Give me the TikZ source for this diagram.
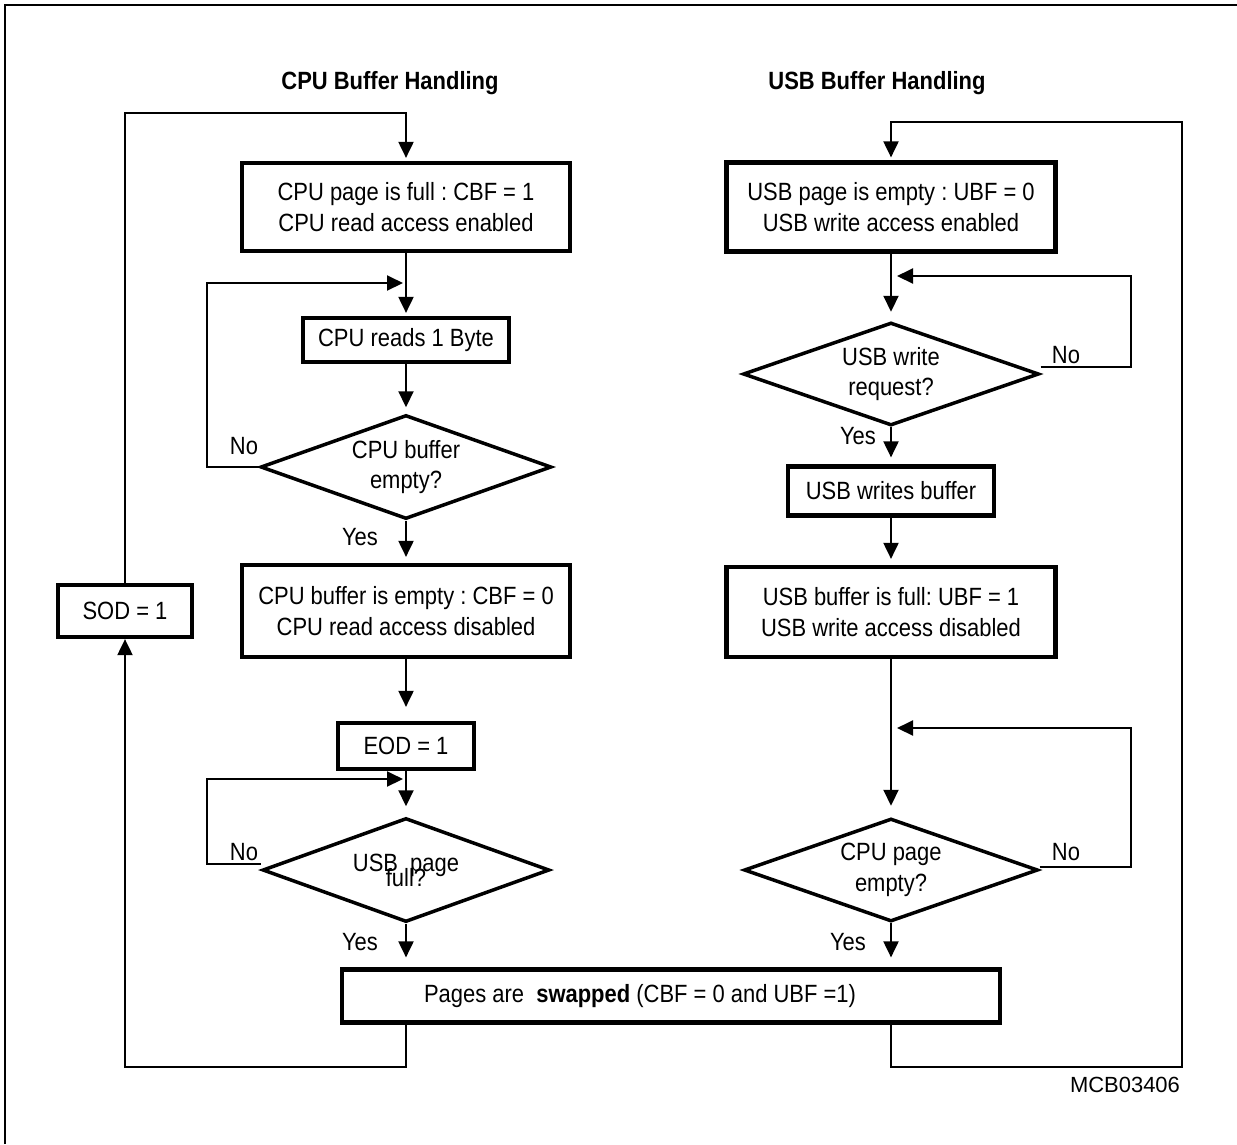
\documentclass[tikz,border=0pt]{standalone}
\usepackage{fontspec}
\setmainfont{Liberation Sans}[FakeStretch=0.88]
\newfontfamily\plainfont{Liberation Sans}
\usetikzlibrary{arrows.meta,shapes.geometric}
\frenchspacing
\begin{document}
\begin{tikzpicture}[x=0.02cm,y=-0.02cm,
  every node/.style={font=\fontsize{14.2}{17.6}\selectfont\frenchspacing, inner sep=1pt},
  box/.style={draw, line width=0.085cm, rectangle, align=center},
  dia/.style={draw, line width=0.07cm, diamond, aspect=2.8, align=center, inner sep=0pt},
  conn/.style={line width=0.04cm},
  arr/.style={conn, -{Triangle[length=0.32cm,width=0.3cm]}},
  ttl/.style={font=\fontsize{14.2}{17.6}\selectfont\bfseries},
  small/.style={font=\plainfont\fontsize{12.5}{14}\selectfont}]
\useasboundingbox (0,0) rectangle (1237,1144);
% frame
\draw[line width=0.05cm] (5,1144) -- (5,5) -- (1237,5);
% titles
\node[ttl, anchor=base] (t1) at (390,89) {CPU Buffer Handling};
\node[ttl, anchor=base] (t2) at (877,89) {USB Buffer Handling};
% left column
\node[box, minimum width=6.56cm, minimum height=1.76cm] (b1) at (406,207) {CPU page is full : CBF = 1\\CPU read access enabled};
\node[box, minimum width=4.12cm, minimum height=0.88cm] (b2) at (406,340) {CPU reads 1 Byte};
\node[dia, minimum width=5.82cm, minimum height=2.08cm] (d1) at (406,467) {CPU buffer\\empty?};
\node[box, minimum width=6.56cm, minimum height=1.84cm] (b3) at (406,611) {CPU buffer is empty : CBF = 0\\CPU read access disabled};
\node[box, minimum width=2.72cm, minimum height=0.92cm] (eod) at (406,746) {EOD = 1};
\node[dia, minimum width=5.74cm, minimum height=2.08cm] (d2) at (406,870) {USB\ \ page\\[-0.32cm]full?};
\node[box, minimum width=2.68cm, minimum height=1.04cm] (sod) at (125,611) {SOD = 1};
% right column
\node[box, minimum width=6.58cm, minimum height=1.78cm] (u1) at (891,207) {USB page is empty : UBF = 0\\USB write access enabled};
\node[dia, minimum width=5.92cm, minimum height=2.06cm] (d3) at (891,374) {USB write\\request?};
\node[box, minimum width=4.12cm, minimum height=0.98cm] (u2) at (891,491) {USB writes buffer};
\node[box, minimum width=6.58cm, minimum height=1.8cm] (u3) at (891,612) {USB buffer is full: UBF = 1\\USB write access disabled};
\node[dia, minimum width=5.88cm, minimum height=2.06cm] (d4) at (891,870) {CPU page\\empty?};
% swap
\node[box, minimum width=13.16cm, minimum height=1.06cm] (swap) at (671,996) {Pages are\ \ \textbf{swapped} (CBF = 0 and UBF =1)\hspace*{1.24cm}};
% labels
\node (l1) at (244,446) {No};
\node (l2) at (360,537) {Yes};
\node (l3) at (244,852) {No};
\node (l4) at (360,942) {Yes};
\node (l5) at (1066,355) {No};
\node (l6) at (858,436) {Yes};
\node (l7) at (1066,852) {No};
\node (l8) at (848,942) {Yes};
\node[small, anchor=base east] (mcb) at (1182,1092) {MCB03406};
% coordinates
\coordinate (ct) at (125,113);
\coordinate (cl) at (125,1067);
\coordinate (crt) at (1182,122);
\coordinate (cr) at (1182,1067);
\coordinate (j1) at (406,283);
\coordinate (n1) at (207,467);
\coordinate (j2) at (406,779);
\coordinate (n2) at (207,864);
\coordinate (j3) at (891,276);
\coordinate (n3) at (1131,367);
\coordinate (j4) at (891,728);
\coordinate (n4) at (1131,867);
% left connectors
\draw[arr, shorten >=0.06cm] (sod.north) -- (ct) -| (b1.north);
\draw[arr] (swap.south -| b1.south) |- (cl) -- (sod.south);
\draw[arr, shorten >=0.06cm] (b1) -- (b2);
\draw[arr, shorten >=0.06cm] (d1.west) -- (n1) |- (j1);
\draw[arr, shorten >=0.12cm] (b2) -- (d1);
\draw[arr, shorten >=0.12cm] (d1) -- (b3);
\draw[arr, shorten >=0.28cm] (b3) -- (eod);
\draw[arr, shorten >=0.2cm] (eod) -- (d2);
\draw[arr, shorten >=0.06cm] (d2.west |- n2) -- (n2) |- (j2);
\draw[arr, shorten >=0.2cm] (d2.south) -- (d2.south |- swap.north);
% right connectors
\draw[arr, shorten >=0.06cm] (swap.south -| d4.south) |- (cr) -- (crt) -| (u1.north);
\draw[arr, shorten >=0.18cm] (u1) -- (d3);
\draw[arr, shorten >=0.12cm] (d3.east |- n3) -- (n3) |- (j3);
\draw[arr, shorten >=0.14cm] (d3) -- (u2);
\draw[arr, shorten >=0.12cm] (u2) -- (u3);
\draw[arr, shorten >=0.22cm] (u3) -- (d4);
\draw[arr, shorten >=0.12cm] (d4.east |- n4) -- (n4) |- (j4);
\draw[arr, shorten >=0.2cm] (d4.south) -- (d4.south |- swap.north);
\end{tikzpicture}
\end{document}
